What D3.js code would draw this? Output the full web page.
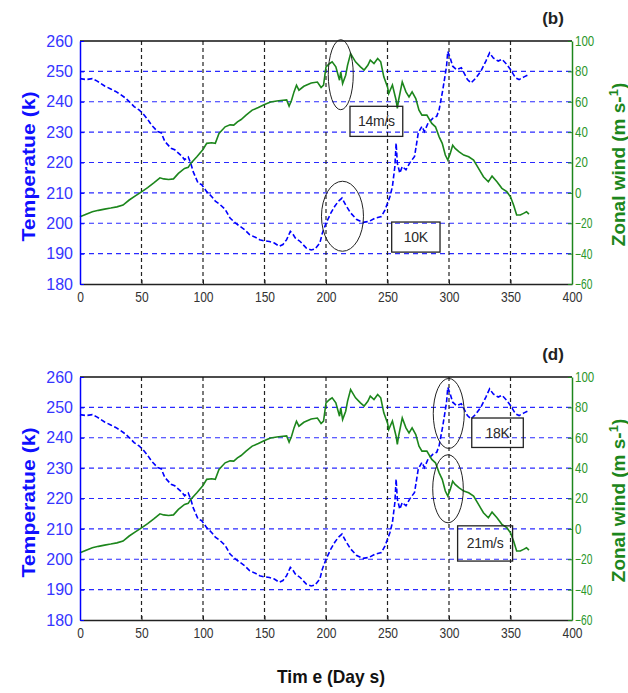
<!DOCTYPE html>
<html>
<head>
<meta charset="utf-8">
<script src="https://cdn.jsdelivr.net/npm/d3@7"></script>
<style>
  html, body { margin: 0; padding: 0; background: #fff; }
  svg { display: block; }
  text { font-family: "Liberation Sans", Arial, sans-serif; }
</style>
</head>
<body>
<svg id="chart" width="628" height="693"></svg>
<script>
// ---------------- DATA ----------------
const tempDays = [0,5,10,14,20,25,29,33,37,41,44,48,51,55,58,63,66,69,74,77,80,83,85,88,90,92,96,99,103,107,110,114,118,122,126,130,134,138,142,146,150,154,158,162,165,168,171,173,175,179,184,188,191,195,197,200,204,207,210,213,216,220,225,230,235,240,245,248,250,252,254,256,257,258,260,262,265,268,272,275,278,280,283,287,290,292,295,298,299,301,303,306,310,315,318,322,326,330,333,336,340,343,347,350,354,357,361,365];
const tempVals = [247.6,247.3,247.6,246.8,245.2,244.2,243.4,242.4,241.2,239.7,238.4,237.3,236.2,234.2,232.4,230.2,229.8,226.9,224.7,224.2,223.1,222,220.9,221.8,219.8,217,213.2,212.7,210.4,208.8,207.3,206.1,204.6,201.7,200.2,199,197.8,196.2,195.5,194.6,194.2,194,193.5,192.4,193,194.6,197.3,196.5,195.2,194,191.8,191.2,191.5,193.5,196.7,200,203.4,205.5,207.2,208.3,206,203.4,201.2,200.3,200.6,201.7,202.2,204.4,206.6,208.8,212.1,218.7,226.4,219.8,216.5,218.7,217.6,219.8,222,229.7,231.9,230.2,233,234.6,235.2,237.4,244,251.7,256.6,254.4,251.7,250.6,251.2,247.3,246.2,247.9,250.1,253.4,256.1,254.4,253.4,254,252.3,250.6,247.9,247.3,248.2,249];

const windDays = [0,5,10,15,20,25,30,35,40,45,50,55,60,65,68,72,76,80,85,88,90,95,100,103,107,110,113,118,122,125,128,131,135,140,145,150,155,160,165,168,170,172,174,176,178,182,188,193,196,198,200,203,205,208,211,212,213.5,216,217.5,220,221.6,224,228,231,234,236,239,242,244.5,247,250,251,254,257,258,259,262,265,267.5,270,273,275.6,278,282,286,289,292,294.5,297,299,301,303,305,308,312,316,320,324,328,332,335,339,343,347,350,352.5,355,358,360.6,363,365];
const windVals = [-15.7,-14,-12.4,-11.5,-10.7,-10,-9.2,-8,-4.7,-2,0.7,3.5,6.6,9.9,9.2,8.8,9.2,12.8,16.1,16.8,19.4,23.8,28.6,32.6,33,32.6,39.1,43.5,44.8,44.6,46.8,48.3,51.2,54.5,56.2,58.2,59.9,60.5,61,61.2,57.1,61,66.5,70.9,67.6,70.2,72.4,73,69.4,71,83,85.2,86.3,83,74.2,79.7,72,77.5,84,91.8,89.6,86.3,83,80.9,84,87.4,85.2,88.5,86.3,76.4,69.8,65.4,71,61,55.6,61,73.1,66.5,63.2,66.5,62.1,54.5,51.2,51.2,45.7,43.5,36.9,32.6,24.9,21.6,26,31.4,29.3,27.1,24.9,23.8,21.6,16.1,10.6,7.3,11,7.3,3,0.8,-2.6,-8,-14.6,-14.6,-13.5,-12.4,-14];

const xTicks = [0,50,100,150,200,250,300,350,400];
const tempTicks = [180,190,200,210,220,230,240,250,260];
const windTicks = [-60,-40,-20,0,20,40,60,80,100];
const panelLabels = ["(b)", "(d)"];

// annotations in data coordinates (day, temperature-axis value)
const ellipsesB = [[212.0,248.9,12.5,35],[213.4,202.3,21,35]];
const boxesB = [{d:[219.5,262.4],t:[238.5,228.6],label:"14m/s"},{d:[253.4,292.7],t:[200.4,190.5],label:"10K"}];
const ellipsesD = [[299.8,248,15.5,35],[299.2,223.2,15.3,34]];
const boxesD = [{d:[318.5,360.4],t:[246.5,236.8],label:"18K"},{d:[307,351.7],t:[211,199.4],label:"21m/s"}];

// ---------------- DRAW ----------------
const svg = d3.select("#chart");
svg.append("rect").attr("width",628).attr("height",693).attr("fill","#fff");

const L = 80, R = 572;
const x = d3.scaleLinear().domain([0,400]).range([L,R]);

const BLUE = "#0000ff", TICKBLUE = "#3535ff", GREEN = "#1c861c", TICKGREEN = "#2a962a";

function panel(top, label, ellipses, boxes) {
  const bottom = top + 243;
  const yT = d3.scaleLinear().domain([180,260]).range([bottom, top]);
  const yW = d3.scaleLinear().domain([-60,100]).range([bottom, top]);
  const g = svg.append("g");

  // grid: horizontal (blue dashed)
  g.selectAll(".hg").data(tempTicks.filter(t => t>180 && t<260)).enter().append("line")
    .attr("x1", L).attr("x2", R).attr("y1", d=>yT(d)).attr("y2", d=>yT(d))
    .attr("stroke", "#2a2aff").attr("stroke-width", 1.2).attr("stroke-dasharray", "5,4");
  // grid: vertical (black dashed)
  g.selectAll(".vg").data(xTicks.filter(t => t>0 && t<400)).enter().append("line")
    .attr("x1", d=>x(d)).attr("x2", d=>x(d)).attr("y1", top).attr("y2", bottom)
    .attr("stroke", "#222").attr("stroke-width", 1.2).attr("stroke-dasharray", "4,3");

  // temperature line
  const tData = tempDays.map((d,i)=>[d,tempVals[i]]);
  g.append("path").datum(tData)
    .attr("d", d3.line().x(d=>x(d[0])).y(d=>yT(d[1])))
    .attr("fill","none").attr("stroke", BLUE).attr("stroke-width", 1.6)
    .attr("stroke-dasharray","5,2.5");
  // wind line
  const wData = windDays.map((d,i)=>[d,windVals[i]]);
  g.append("path").datum(wData)
    .attr("d", d3.line().x(d=>x(d[0])).y(d=>yW(d[1])))
    .attr("fill","none").attr("stroke", GREEN).attr("stroke-width", 1.6);

  // box frame: top black
  g.append("line").attr("x1",L).attr("x2",R).attr("y1",top).attr("y2",top).attr("stroke","#111").attr("stroke-width",1.3);

  // bottom axis
  const ax = g.append("g").attr("transform",`translate(0,${bottom})`)
    .call(d3.axisBottom(x).tickValues(xTicks).tickSizeInner(-4).tickSizeOuter(0).tickPadding(8));
  ax.select(".domain").attr("stroke","#222").attr("stroke-width",1.3);
  ax.selectAll(".tick line").attr("stroke","#222");
  ax.selectAll("text").attr("font-size",14).attr("fill","#333")
    .attr("textLength", d => String(d).length*6.7).attr("lengthAdjust","spacingAndGlyphs");

  // left axis
  const al = g.append("g").attr("transform",`translate(${L},0)`)
    .call(d3.axisLeft(yT).tickValues(tempTicks).tickSizeInner(-4).tickSizeOuter(0).tickPadding(7));
  al.select(".domain").attr("stroke",BLUE).attr("stroke-width",1.5);
  al.selectAll(".tick line").attr("stroke",BLUE);
  al.selectAll("text").attr("font-size",16).attr("fill",TICKBLUE);

  // right axis
  const ar = g.append("g").attr("transform",`translate(${R},0)`)
    .call(d3.axisRight(yW).tickValues(windTicks).tickSizeInner(-4).tickSizeOuter(0).tickPadding(3));
  ar.select(".domain").attr("stroke",GREEN).attr("stroke-width",1.5);
  ar.selectAll(".tick line").attr("stroke",GREEN);
  ar.selectAll("text").attr("font-size",14).attr("fill",TICKGREEN)
    .attr("textLength", d => { const s=String(d); return (s.replace("-","").length*6.4 + (s.includes("-")?4.5:0)); })
    .attr("lengthAdjust","spacingAndGlyphs");

  // annotations
  ellipses.forEach(e => {
    g.append("ellipse").attr("cx", x(e[0])).attr("cy", yT(e[1])).attr("rx", e[2]).attr("ry", e[3])
      .attr("fill","none").attr("stroke","#222").attr("stroke-width",1);
  });
  boxes.forEach(b => {
    const x0 = x(b.d[0]), x1 = x(b.d[1]), y0 = yT(b.t[0]), y1 = yT(b.t[1]);
    g.append("rect").attr("x",x0).attr("y",y0).attr("width",x1-x0).attr("height",y1-y0)
      .attr("fill","none").attr("stroke","#222").attr("stroke-width",1.3);
    g.append("text").attr("x",(x0+x1)/2).attr("y",(y0+y1)/2+5).attr("text-anchor","middle")
      .attr("font-size",14).attr("fill","#2a2a2a").attr("letter-spacing","-0.3").text(b.label);
  });

  // panel label
  g.append("text").attr("x", 553).attr("y", top-17).attr("text-anchor","middle")
    .attr("font-size",17).attr("font-weight","bold").attr("fill","#222").text(label);

  // y titles
  const cy = (top+bottom)/2;
  g.append("text").attr("transform",`translate(35,${cy+4}) rotate(-90)`).attr("text-anchor","middle")
    .attr("font-size",19).attr("font-weight","bold").attr("fill","#1010ff")
    .attr("textLength",150).attr("lengthAdjust","spacingAndGlyphs").text("Temperatue (k)");
  const rt = g.append("text").attr("transform",`translate(625,${cy+2}) rotate(-90)`).attr("text-anchor","middle")
    .attr("font-size",19).attr("font-weight","bold").attr("fill",GREEN);
  rt.append("tspan").text("Zonal wind (m s-");
  rt.append("tspan").attr("dy",-7).attr("font-size",13).text("1");
  rt.append("tspan").attr("dy",7).text(")");
}

panel(41, panelLabels[0], ellipsesB, boxesB);
panel(377, panelLabels[1], ellipsesD, boxesD);

// x title
svg.append("text").attr("x",331).attr("y",683).attr("text-anchor","middle")
  .attr("font-size",19).attr("font-weight","bold").attr("fill","#111")
  .attr("textLength",108).attr("lengthAdjust","spacingAndGlyphs").text("Tim e (Day s)");
</script>
</body>
</html>
